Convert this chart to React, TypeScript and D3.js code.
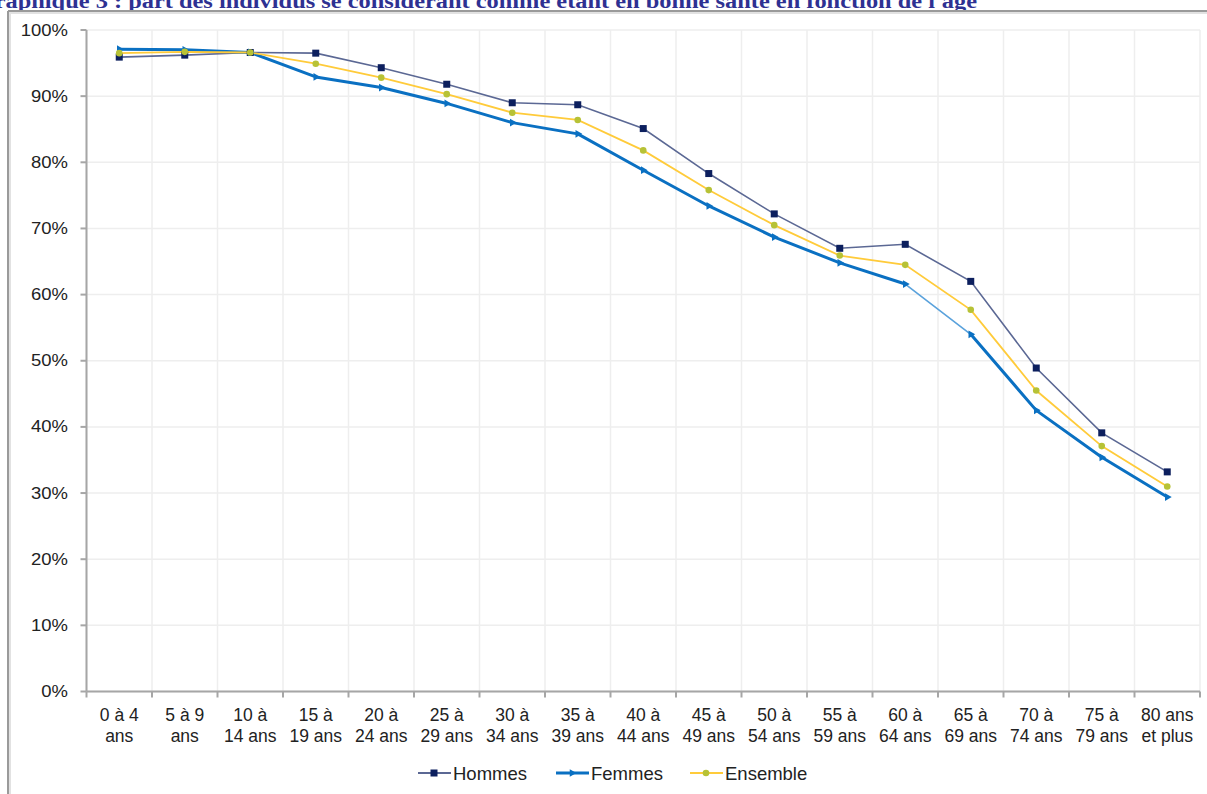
import React from "react";
import * as d3 from "d3";

const categories: string[][] = [
  ["0 à 4", "ans"], ["5 à 9", "ans"], ["10 à", "14 ans"], ["15 à", "19 ans"],
  ["20 à", "24 ans"], ["25 à", "29 ans"], ["30 à", "34 ans"], ["35 à", "39 ans"],
  ["40 à", "44 ans"], ["45 à", "49 ans"], ["50 à", "54 ans"], ["55 à", "59 ans"],
  ["60 à", "64 ans"], ["65 à", "69 ans"], ["70 à", "74 ans"], ["75 à", "79 ans"],
  ["80 ans", "et plus"],
];
const hommes = [95.9, 96.2, 96.6, 96.5, 94.3, 91.8, 89.0, 88.7, 85.1, 78.3, 72.2, 67.0, 67.6, 62.0, 48.9, 39.1, 33.2];
const femmes = [97.1, 97.0, 96.6, 92.9, 91.3, 88.9, 86.0, 84.3, 78.8, 73.4, 68.7, 64.8, 61.6, 54.0, 42.5, 35.4, 29.4];
const ensemble = [96.5, 96.7, 96.6, 94.9, 92.8, 90.3, 87.5, 86.4, 81.8, 75.8, 70.5, 65.9, 64.5, 57.7, 45.5, 37.1, 31.0];
const yTicks = [0, 10, 20, 30, 40, 50, 60, 70, 80, 90, 100];
const title = "Graphique 3 : part des individus se considérant comme étant en bonne santé en fonction de l'âge";
const legendItems = ["Hommes", "Femmes", "Ensemble"];

const W = 1207, H = 794;
const left = 86.5, right = 1200, top = 30, bottom = 691.5;

export default function App() {
  const x = d3.scaleBand<number>().domain(d3.range(categories.length)).range([left, right]);
  const y = d3.scaleLinear().domain([0, 100]).range([bottom, top]);
  const cx = (i: number) => (x(i) as number) + x.bandwidth() / 2;
  const line = d3.line<number>().x((_, i) => cx(i)).y((d) => y(d));
  const font = "Liberation Sans, Arial, sans-serif";
  const hLine = "#5b6894", hMark = "#0c1f5e";
  const fCol = "#0a70c2", fLight = "#5aa2dc";
  const eLine = "#ffcb3a", eMark = "#b7c236";
  const boundaries = d3.range(categories.length + 1).map((i) => left + i * x.bandwidth());

  const femmesSegs = femmes.slice(1).map((v, i) => ({ a: femmes[i], b: v, i }));

  return (
    <svg width={W} height={H} style={{ position: "absolute", left: 0, top: 0, background: "#fff" }}>
      <rect x={0} y={0} width={W} height={H} fill="#fff" />
      {/* title */}
      <g transform="translate(977,8) scale(1.22,1)">
        <text textAnchor="end" fontFamily="Liberation Serif, Times New Roman, serif" fontWeight="bold" fontSize={20} fill="#2e3192">
          {title}
        </text>
      </g>
      {/* frame */}
      <line x1={8} y1={13} x2={W} y2={13} stroke="#e2e2e2" strokeWidth={2} />
      <line x1={10} y1={11} x2={10} y2={H} stroke="#e2e2e2" strokeWidth={2} />
      <line x1={8} y1={11} x2={W} y2={11} stroke="#9a9a9a" strokeWidth={2} />
      <line x1={8} y1={11} x2={8} y2={H} stroke="#9a9a9a" strokeWidth={2} />

      {/* grid */}
      {yTicks.map((t) => (
        <line key={"gy" + t} x1={left} x2={right} y1={y(t)} y2={y(t)} stroke="#eeeeee" strokeWidth={1.5} />
      ))}
      {boundaries.map((b, i) => (
        <line key={"gx" + i} x1={b} x2={b} y1={top} y2={bottom} stroke="#eeeeee" strokeWidth={1.5} />
      ))}

      {/* axes */}
      <line x1={left} x2={left} y1={top} y2={bottom} stroke="#a6a6a6" strokeWidth={2} />
      <line x1={left} x2={right} y1={bottom} y2={bottom} stroke="#a6a6a6" strokeWidth={2} />
      {yTicks.map((t) => (
        <g key={"yt" + t}>
          <line x1={left - 6} x2={left} y1={y(t)} y2={y(t)} stroke="#a6a6a6" strokeWidth={2} />
          <g transform={`translate(68,${y(t) + 5.5}) scale(1.12,1)`}>
            <text textAnchor="end" fontFamily={font} fontSize={16.5} fill="#222">{t}%</text>
          </g>
        </g>
      ))}
      {boundaries.map((b, i) => (
        <line key={"xt" + i} x1={b} x2={b} y1={bottom} y2={bottom + 6} stroke="#a6a6a6" strokeWidth={2} />
      ))}
      {categories.map((c, i) => (
        <text key={"xl" + i} textAnchor="middle" fontFamily={font} fontSize={17.5} fill="#222">
          <tspan x={cx(i)} y={721}>{c[0]}</tspan>
          <tspan x={cx(i)} y={742}>{c[1]}</tspan>
        </text>
      ))}

      {/* Hommes */}
      <path d={line(hommes) || ""} fill="none" stroke={hLine} strokeWidth={1.6} />
      {/* Femmes */}
      {femmesSegs.map((s) => (
        <line key={"fs" + s.i} x1={cx(s.i)} y1={y(s.a)} x2={cx(s.i + 1)} y2={y(s.b)}
          stroke={s.i === 12 ? fLight : fCol} strokeWidth={s.i === 12 ? 1.6 : 3} strokeLinecap="round" />
      ))}
      {/* Ensemble */}
      <path d={line(ensemble) || ""} fill="none" stroke={eLine} strokeWidth={1.8} />

      {hommes.map((v, i) => (
        <rect key={"hm" + i} x={cx(i) - 3.5} y={y(v) - 3.5} width={7} height={7} fill={hMark} />
      ))}
      {femmes.map((v, i) => (
        <path key={"fm" + i} d={d3.symbol(d3.symbolTriangle, 26)() || ""} transform={`translate(${cx(i)},${y(v)}) rotate(90)`} fill={fCol} />
      ))}
      {ensemble.map((v, i) => (
        <circle key={"em" + i} cx={cx(i)} cy={y(v)} r={3.3} fill={eMark} />
      ))}

      {/* legend */}
      {legendItems.map((name, k) => {
        const sx = [418, 556, 690][k];
        const cxl = sx + 16;
        const ly = 773;
        return (
          <g key={"lg" + k}>
            <line x1={sx} x2={sx + 33} y1={ly} y2={ly}
              stroke={k === 0 ? hLine : k === 1 ? fCol : eLine} strokeWidth={k === 1 ? 3 : 1.8} />
            {k === 0 && <rect x={cxl - 3.5} y={ly - 3.5} width={7} height={7} fill={hMark} />}
            {k === 1 && <path d={d3.symbol(d3.symbolTriangle, 26)() || ""} transform={`translate(${cxl},${ly}) rotate(90)`} fill={fCol} />}
            {k === 2 && <circle cx={cxl} cy={ly} r={3.3} fill={eMark} />}
            <text x={sx + 35} y={ly + 6.5} fontFamily={font} fontSize={18.5} fill="#222">{name}</text>
          </g>
        );
      })}
    </svg>
  );
}
